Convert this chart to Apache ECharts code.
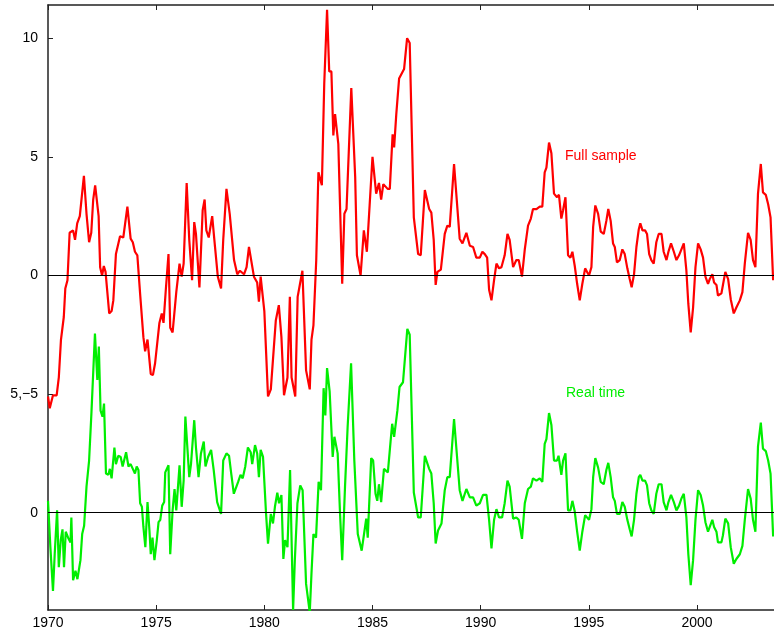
<!DOCTYPE html>
<html><head><meta charset="utf-8">
<script src="https://cdn.jsdelivr.net/npm/echarts@6/dist/echarts.min.js"></script>
<style>html,body{margin:0;padding:0;background:#fff}#c{width:774px;height:639px}</style>
</head><body><div id="c"></div>
<script>
const xTicks = [1970,1975,1980,1985,1990,1995,2000];
const yTicks = [-10,-5,0,5,10];
const yTickLabels = ['0','5,\u22125','0','5','10'];
const realTimeOffset = -10;
const fullSampleYears = [1970.0,1970.08,1970.23,1970.4,1970.5,1970.6,1970.73,1970.8,1970.9,1971.0,1971.16,1971.25,1971.35,1971.47,1971.66,1971.78,1971.9,1972.0,1972.09,1972.18,1972.34,1972.41,1972.5,1972.58,1972.66,1972.83,1972.94,1973.02,1973.14,1973.33,1973.48,1973.67,1973.82,1973.92,1974.02,1974.13,1974.26,1974.41,1974.49,1974.6,1974.75,1974.85,1974.95,1975.15,1975.26,1975.34,1975.45,1975.57,1975.65,1975.76,1975.93,1976.08,1976.18,1976.27,1976.41,1976.53,1976.66,1976.76,1976.84,1977.0,1977.15,1977.24,1977.32,1977.43,1977.59,1977.69,1977.85,1978.0,1978.1,1978.25,1978.4,1978.6,1978.75,1978.87,1979.06,1979.18,1979.29,1979.37,1979.52,1979.67,1979.75,1979.83,1980.0,1980.17,1980.3,1980.53,1980.67,1980.79,1980.91,1981.07,1981.18,1981.26,1981.43,1981.54,1981.65,1981.76,1981.93,1982.1,1982.18,1982.27,1982.4,1982.5,1982.66,1982.77,1982.9,1983.0,1983.1,1983.19,1983.27,1983.42,1983.6,1983.7,1983.8,1984.02,1984.2,1984.28,1984.45,1984.6,1984.74,1985.0,1985.17,1985.3,1985.4,1985.5,1985.7,1985.8,1985.93,1986.0,1986.1,1986.23,1986.46,1986.6,1986.72,1986.91,1987.11,1987.23,1987.42,1987.62,1987.72,1987.83,1987.92,1988.0,1988.16,1988.34,1988.46,1988.57,1988.77,1988.85,1989.03,1989.16,1989.34,1989.5,1989.65,1989.8,1989.96,1990.08,1990.19,1990.3,1990.39,1990.5,1990.62,1990.73,1990.85,1990.96,1991.11,1991.24,1991.34,1991.5,1991.65,1991.76,1991.91,1992.04,1992.19,1992.32,1992.42,1992.58,1992.73,1992.85,1992.96,1993.04,1993.16,1993.27,1993.39,1993.53,1993.62,1993.73,1993.81,1993.92,1994.04,1994.15,1994.24,1994.35,1994.46,1994.58,1994.7,1994.83,1994.92,1995.01,1995.12,1995.2,1995.3,1995.43,1995.55,1995.69,1995.81,1995.9,1996.01,1996.12,1996.2,1996.3,1996.43,1996.55,1996.66,1996.78,1996.89,1996.98,1997.09,1997.2,1997.31,1997.38,1997.48,1997.6,1997.69,1997.79,1997.89,1998.0,1998.12,1998.23,1998.36,1998.46,1998.59,1998.68,1998.8,1998.93,1999.05,1999.17,1999.28,1999.39,1999.51,1999.6,1999.71,1999.82,1999.93,2000.05,2000.17,2000.28,2000.39,2000.51,2000.59,2000.71,2000.79,2000.9,2000.97,2001.13,2001.2,2001.31,2001.44,2001.56,2001.7,2001.82,2001.98,2002.1,2002.21,2002.36,2002.48,2002.59,2002.7,2002.82,2002.95,2003.05,2003.18,2003.29,2003.4,2003.52];
const fullSampleValues = [-5.1,-5.6,-5.05,-5.05,-4.3,-2.7,-1.75,-0.55,-0.2,1.8,1.9,1.5,2.2,2.5,4.2,2.6,1.4,1.8,3.2,3.8,2.5,0.35,0,0.4,0.15,-1.6,-1.5,-1.05,0.9,1.65,1.6,2.9,1.55,1.4,1.0,0.85,-0.8,-2.6,-3.2,-2.7,-4.15,-4.2,-3.7,-2.0,-1.6,-2.0,-0.55,0.9,-2.2,-2.4,-0.7,0.5,-0.05,0.5,3.9,1.5,-0.2,2.25,1.75,-0.5,2.75,3.2,1.9,1.6,2.5,1.5,-0.05,-0.55,1.5,3.65,2.6,0.65,0.05,0.2,0.05,0.35,1.2,1.2,-0.05,-0.3,-1.1,-0.05,-1.5,-5.1,-4.8,-1.9,-1.25,-2.6,-5.05,-4.3,-0.9,-4.3,-5.1,-0.9,-0.35,0.2,-4.0,-4.8,-2.7,-2.1,0.65,4.35,3.8,8.1,11.2,8.6,8.6,5.9,6.8,5.55,-0.35,2.6,2.8,7.9,4.15,0.85,0,1.9,1.0,5.0,3.45,3.9,3.2,3.85,3.65,3.65,5.95,5.4,6.8,8.3,8.7,10.0,9.8,2.45,0.9,0.85,3.6,2.8,2.65,1.5,-0.4,0.15,0.25,1.75,2.1,2.05,4.7,4.65,1.55,1.35,1.8,1.25,1.2,0.75,0.75,1.0,0.9,0.75,-0.6,-1.05,-0.2,0.5,0.3,0.35,0.85,1.75,1.5,0.35,0.65,0.65,-0.05,1.1,2.1,2.4,2.8,2.8,2.9,2.9,4.35,4.55,5.6,5.15,3.45,3.3,3.4,2.4,2.75,3.3,0.85,0.75,1.0,0.4,-0.35,-1.05,-0.35,0.3,0.15,0,0.35,2.05,2.95,2.6,1.85,1.75,2.3,2.8,2.3,1.35,1.2,0.55,0.65,1.1,0.9,0.3,-0.15,-0.5,0.05,1.2,1.95,2.2,1.9,1.9,1.75,0.9,0.65,0.5,1.4,1.75,1.75,1.0,0.65,1.0,1.35,1.0,0.65,0.85,1.1,1.35,0.2,-1.2,-2.4,-1.35,0.35,1.35,1.1,0.75,-0.05,-0.35,-0.15,0.05,-0.3,-0.4,-0.85,-0.75,-0.4,0.15,-0.15,-1.0,-1.6,-1.35,-1.05,-0.7,0.5,1.8,1.5,0.65,0.35,3.45,4.7,3.5,3.4,3.0,2.45,-0.2];
const realTimeYears = [1970.0,1970.11,1970.23,1970.31,1970.42,1970.5,1970.59,1970.67,1970.74,1970.82,1970.93,1971.04,1971.08,1971.16,1971.27,1971.36,1971.5,1971.58,1971.67,1971.78,1971.9,1972.01,1972.17,1972.28,1972.35,1972.43,1972.52,1972.59,1972.68,1972.79,1972.86,1972.94,1973.07,1973.14,1973.25,1973.36,1973.45,1973.61,1973.72,1973.82,1973.92,1974.02,1974.1,1974.18,1974.26,1974.34,1974.41,1974.5,1974.6,1974.69,1974.75,1974.83,1974.92,1975.03,1975.11,1975.19,1975.28,1975.37,1975.42,1975.57,1975.65,1975.76,1975.85,1975.93,1976.08,1976.18,1976.27,1976.35,1976.42,1976.53,1976.61,1976.69,1976.76,1976.84,1976.96,1977.07,1977.2,1977.28,1977.4,1977.54,1977.66,1977.82,1978.0,1978.1,1978.25,1978.37,1978.47,1978.59,1978.68,1978.79,1978.9,1979.0,1979.12,1979.24,1979.37,1979.44,1979.57,1979.67,1979.75,1979.83,1979.94,1980.02,1980.08,1980.17,1980.3,1980.4,1980.49,1980.6,1980.68,1980.79,1980.88,1980.96,1981.07,1981.19,1981.33,1981.41,1981.53,1981.66,1981.77,1981.93,1982.1,1982.18,1982.27,1982.39,1982.51,1982.62,1982.74,1982.82,1982.9,1983.02,1983.16,1983.24,1983.39,1983.5,1983.6,1983.73,1983.85,1984.01,1984.16,1984.32,1984.5,1984.71,1984.78,1984.94,1985.03,1985.14,1985.22,1985.3,1985.4,1985.53,1985.71,1985.84,1985.91,1986.0,1986.15,1986.25,1986.41,1986.61,1986.72,1986.91,1987.11,1987.23,1987.42,1987.62,1987.72,1987.83,1987.92,1988.03,1988.19,1988.34,1988.46,1988.57,1988.77,1988.85,1989.03,1989.16,1989.34,1989.5,1989.65,1989.8,1989.96,1990.11,1990.27,1990.39,1990.5,1990.62,1990.73,1990.85,1990.99,1991.11,1991.24,1991.34,1991.5,1991.65,1991.76,1991.91,1992.04,1992.19,1992.32,1992.42,1992.58,1992.73,1992.85,1992.96,1993.04,1993.16,1993.27,1993.39,1993.53,1993.6,1993.73,1993.81,1993.92,1994.04,1994.15,1994.24,1994.35,1994.46,1994.58,1994.7,1994.83,1994.92,1995.01,1995.12,1995.2,1995.3,1995.43,1995.55,1995.69,1995.81,1995.9,1996.01,1996.12,1996.2,1996.3,1996.43,1996.55,1996.66,1996.78,1996.89,1996.98,1997.09,1997.2,1997.31,1997.38,1997.48,1997.6,1997.69,1997.79,1997.89,1998.0,1998.12,1998.23,1998.36,1998.46,1998.59,1998.68,1998.8,1998.93,1999.05,1999.17,1999.28,1999.39,1999.51,1999.6,1999.71,1999.82,1999.93,2000.05,2000.17,2000.28,2000.39,2000.51,2000.59,2000.71,2000.79,2000.9,2000.97,2001.13,2001.2,2001.31,2001.44,2001.56,2001.7,2001.82,2001.98,2002.1,2002.21,2002.36,2002.48,2002.59,2002.7,2002.82,2002.95,2003.05,2003.18,2003.29,2003.4,2003.52];
const realTimeValues = [0.5,-1.45,-3.3,-1.75,0.1,-2.3,-1.15,-0.7,-2.3,-0.8,-1.05,-1.25,-0.2,-2.85,-2.45,-2.8,-2.0,-0.9,-0.55,1.1,2.2,4.25,7.55,5.6,7.0,4.3,4.05,4.6,1.65,1.6,1.85,1.45,2.75,2.05,2.4,2.35,1.95,2.55,1.95,2.05,1.85,1.65,1.95,1.8,0.4,0.25,-0.6,-1.45,0.45,-0.75,-1.75,-1.05,-2.0,-1.15,-0.4,-0.3,0.3,0.45,1.7,2.0,-1.75,0.1,1.0,0.1,2.0,0.25,1.35,4.05,4.1,1.5,2.05,2.0,3.9,2.75,1.5,2.5,3.0,1.95,2.35,2.65,1.8,0.45,-0.05,2.2,2.5,2.4,1.65,0.8,0.85,1.3,1.6,1.45,1.95,2.75,2.55,2.05,2.85,2.5,1.5,2.65,2.35,2.35,-0.05,-1.3,-0.05,-0.45,0.25,0.85,0.4,0.75,-1.95,-1.15,-1.45,1.8,-4.1,-2.0,0.4,1.15,0.95,-3.0,-4.2,-2.55,-0.9,-1.05,1.3,0.95,5.25,4.1,6.1,5.1,2.35,3.2,2.5,-0.05,-2.0,1.1,3.6,6.3,2.2,-0.9,-1.6,-0.25,-1.05,2.3,2.2,0.8,0.5,1.2,0.45,1.85,1.7,3.05,3.75,3.2,4.3,5.3,5.5,7.75,7.5,0.85,-0.2,-0.2,2.4,1.85,1.65,0.4,-1.3,-0.75,-0.45,0.95,1.5,1.5,3.95,3.9,0.95,0.5,1.0,0.65,0.65,0.3,0.4,0.75,0.75,-0.3,-1.5,-0.3,0.15,-0.2,-0.2,0.4,1.35,1.1,-0.25,-0.2,-0.3,-1.1,0.4,1.0,1.1,1.45,1.35,1.45,1.3,2.9,3.1,4.2,3.7,2.2,2.2,2.4,1.6,2.2,2.5,0.1,0.1,0.5,0.05,-0.8,-1.6,-0.8,-0.1,-0.1,-0.3,0.15,1.5,2.3,1.9,1.3,1.2,1.8,2.1,1.5,0.65,0.5,-0.05,-0.05,0.45,0.25,-0.3,-0.7,-1.0,-0.3,0.8,1.5,1.6,1.35,1.35,1.15,0.4,0.1,-0.05,0.8,1.2,1.2,0.45,0.1,0.45,0.75,0.45,0.1,0.3,0.6,0.8,-0.2,-1.75,-3.05,-2.0,-0.3,0.95,0.75,0.3,-0.4,-0.8,-0.6,-0.3,-0.6,-0.8,-1.25,-1.25,-0.95,-0.25,-0.45,-1.45,-2.15,-1.95,-1.75,-1.4,-0.3,1.0,0.6,-0.3,-0.8,2.8,3.8,2.7,2.6,2.2,1.65,-1.0];

const font = 'Liberation Sans, Arial, sans-serif';
const chart = echarts.init(document.getElementById('c'));
chart.setOption({
  animation: false,
  grid: {left: 48, right: 0, top: 5, bottom: 29},
  xAxis: [{
    type: 'value', min: 1970, max: 2003.56, interval: 5,
    axisLine: {onZero: false, lineStyle: {color: '#222', width: 1.5}},
    axisTick: {inside: true, length: 5, lineStyle: {color: '#222'}},
    axisLabel: {color: '#000', fontSize: 14, fontFamily: font, margin: 6, showMaxLabel: false,
      formatter: v => String(v)},
    splitLine: {show: false}
  }, {
    type: 'value', position: 'top', min: 1970, max: 2003.56, interval: 5,
    axisLine: {show: true, onZero: false, lineStyle: {color: '#222', width: 1.5}},
    axisTick: {inside: true, length: 5, lineStyle: {color: '#222'}},
    axisLabel: {show: false}, splitLine: {show: false}
  }],
  yAxis: {
    type: 'value', min: -14.1, max: 11.4,
    axisLine: {show: true, onZero: false, lineStyle: {color: '#222', width: 1.5}},
    axisTick: {inside: true, length: 5, customValues: yTicks, lineStyle: {color: '#222'}},
    axisLabel: {customValues: yTicks, color: '#000', fontSize: 14, fontFamily: font, margin: 10,
      formatter: v => yTickLabels[yTicks.indexOf(Math.round(v))] ?? ''},
    splitLine: {show: false}
  },
  series: [{
    type: 'line', name: 'Full sample', showSymbol: false, symbol: 'none',
    lineStyle: {color: '#ff0000', width: 2.2}, z: 3,
    data: fullSampleYears.map((y, i) => [y, fullSampleValues[i]]),
    markLine: {silent: true, symbol: 'none', label: {show: false},
      lineStyle: {color: '#000', width: 1, type: 'solid'},
      data: [{yAxis: 0}, {yAxis: realTimeOffset}]}
  }, {
    type: 'line', name: 'Real time', showSymbol: false, symbol: 'none',
    lineStyle: {color: '#00ee00', width: 2.2}, z: 2,
    data: realTimeYears.map((y, i) => [y, realTimeValues[i] + realTimeOffset])
  }],
  graphic: [
    {type: 'text', left: 565, top: 149, style: {text: 'Full sample', fill: '#ff0000', font: '14px ' + font}},
    {type: 'text', left: 566, top: 386, style: {text: 'Real time', fill: '#00ee00', font: '14px ' + font}}
  ]
});
</script></body></html>
